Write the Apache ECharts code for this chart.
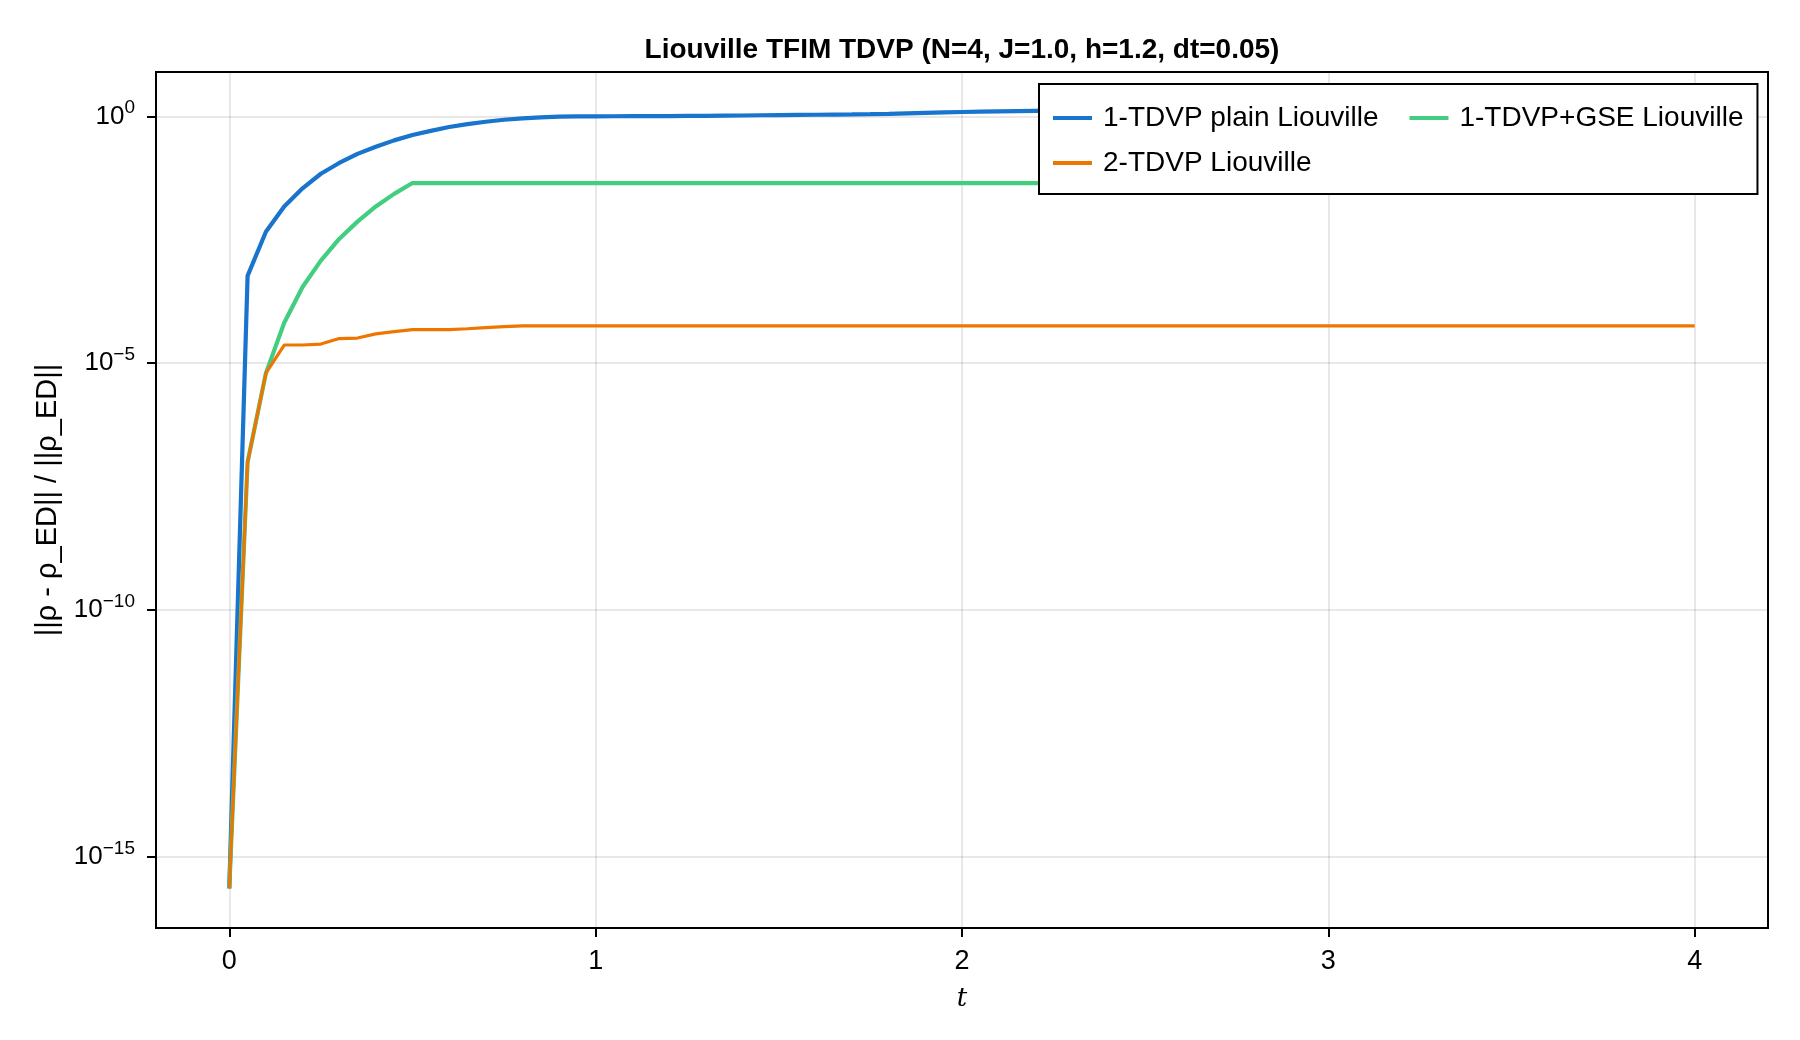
<!DOCTYPE html>
<html>
<head>
<meta charset="utf-8">
<script src="https://cdn.jsdelivr.net/npm/echarts@6/dist/echarts.min.js"></script>
<style>
  html, body { margin: 0; padding: 0; background: #fff; }
  #chart { width: 1800px; height: 1040px; }
</style>
</head>
<body>
<div id="chart"></div>
<script>
const FONT = '"Liberation Sans", Arial, Helvetica, sans-serif'

const times = [
  0, 0.05, 0.1, 0.15, 0.2, 0.25, 0.3, 0.35, 0.4, 0.45,
  0.5, 0.55, 0.6, 0.65, 0.7, 0.75, 0.8, 0.85, 0.9, 0.95,
  1, 1.05, 1.1, 1.15, 1.2, 1.25, 1.3, 1.35, 1.4, 1.45,
  1.5, 1.55, 1.6, 1.65, 1.7, 1.75, 1.8, 1.85, 1.9, 1.95,
  2, 2.05, 2.1, 2.15, 2.2, 2.25, 2.3, 2.35, 2.4, 2.45,
  2.5, 2.55, 2.6, 2.65, 2.7, 2.75, 2.8, 2.85, 2.9, 2.95,
  3, 3.05, 3.1, 3.15, 3.2, 3.25, 3.3, 3.35, 3.4, 3.45,
  3.5, 3.55, 3.6, 3.65, 3.7, 3.75, 3.8, 3.85, 3.9, 3.95,
  4,
]

// 1-TDVP plain Liouville
const plainErr = [
  2.3e-16, 5.9e-4, 4.6e-3, 1.5e-2, 3.5e-2, 6.9e-2, 0.114, 0.174, 0.243, 0.327,
  0.42, 0.51, 0.61, 0.70, 0.78, 0.857, 0.91, 0.955, 0.986, 1.0,
  1.005, 1.008, 1.011, 1.014, 1.018, 1.024, 1.03, 1.037, 1.045, 1.056,
  1.066, 1.074, 1.082, 1.089, 1.096, 1.11, 1.13, 1.155, 1.18, 1.205,
  1.23, 1.25, 1.27, 1.285, 1.30, 1.31, 1.32, 1.33, 1.34, 1.35,
  1.36, 1.36, 1.37, 1.38, 1.39, 1.40, 1.40, 1.41, 1.42, 1.43,
  1.43, 1.44, 1.45, 1.45, 1.46, 1.47, 1.47, 1.48, 1.49, 1.49,
  1.50, 1.50, 1.51, 1.52, 1.52, 1.53, 1.53, 1.54, 1.54, 1.55,
  1.56,
]

// 1-TDVP+GSE Liouville
const gseErr = [
  2.3e-16, 1.0e-7, 6.3e-6, 6.6e-5, 3.5e-4, 1.2e-3, 3.3e-3, 7.4e-3, 1.5e-2, 2.7e-2,
  4.47e-2, 4.47e-2, 4.47e-2, 4.47e-2, 4.47e-2, 4.47e-2, 4.47e-2, 4.47e-2, 4.47e-2, 4.47e-2,
  4.47e-2, 4.47e-2, 4.47e-2, 4.47e-2, 4.47e-2, 4.47e-2, 4.47e-2, 4.47e-2, 4.47e-2, 4.47e-2,
  4.47e-2, 4.47e-2, 4.47e-2, 4.47e-2, 4.47e-2, 4.47e-2, 4.47e-2, 4.47e-2, 4.47e-2, 4.47e-2,
  4.47e-2, 4.47e-2, 4.47e-2, 4.47e-2, 4.47e-2, 4.47e-2, 4.47e-2, 4.47e-2, 4.47e-2, 4.47e-2,
  4.47e-2, 4.47e-2, 4.47e-2, 4.47e-2, 4.47e-2, 4.47e-2, 4.47e-2, 4.47e-2, 4.47e-2, 4.47e-2,
  4.47e-2, 4.47e-2, 4.47e-2, 4.47e-2, 4.47e-2, 4.47e-2, 4.47e-2, 4.47e-2, 4.47e-2, 4.47e-2,
  4.47e-2, 4.47e-2, 4.47e-2, 4.47e-2, 4.47e-2, 4.47e-2, 4.47e-2, 4.47e-2, 4.47e-2, 4.47e-2,
  4.47e-2,
]

// 2-TDVP Liouville
const twoSiteErr = [
  2.3e-16, 9.8e-8, 6.3e-6, 2.34e-5, 2.34e-5, 2.45e-5, 3.16e-5, 3.24e-5, 3.94e-5, 4.37e-5,
  4.79e-5, 4.79e-5, 4.79e-5, 5.0e-5, 5.25e-5, 5.5e-5, 5.71e-5, 5.71e-5, 5.71e-5, 5.71e-5,
  5.71e-5, 5.71e-5, 5.71e-5, 5.71e-5, 5.71e-5, 5.71e-5, 5.71e-5, 5.71e-5, 5.71e-5, 5.71e-5,
  5.71e-5, 5.71e-5, 5.71e-5, 5.71e-5, 5.71e-5, 5.71e-5, 5.71e-5, 5.71e-5, 5.71e-5, 5.71e-5,
  5.71e-5, 5.71e-5, 5.71e-5, 5.71e-5, 5.71e-5, 5.71e-5, 5.71e-5, 5.71e-5, 5.71e-5, 5.71e-5,
  5.71e-5, 5.71e-5, 5.71e-5, 5.71e-5, 5.71e-5, 5.71e-5, 5.71e-5, 5.71e-5, 5.71e-5, 5.71e-5,
  5.71e-5, 5.71e-5, 5.71e-5, 5.71e-5, 5.71e-5, 5.71e-5, 5.71e-5, 5.71e-5, 5.71e-5, 5.71e-5,
  5.71e-5, 5.71e-5, 5.71e-5, 5.71e-5, 5.71e-5, 5.71e-5, 5.71e-5, 5.71e-5, 5.71e-5, 5.71e-5,
  5.71e-5,
]

const xTicks = [0, 1, 2, 3, 4]
const yTicks = [1e-15, 1e-10, 1e-5, 1]

const seriesNames = ['1-TDVP plain Liouville', '1-TDVP+GSE Liouville', '2-TDVP Liouville']
const seriesColors = ['#1874CD', '#43CD80', '#EE7600']

const gridColor = 'rgba(0,0,0,0.12)'

function supLabel(v) {
  const e = Math.round(Math.log10(v))
  const s = e < 0 ? '\u2212' + Math.abs(e) : String(e)
  return '10{sup|' + s + '}'
}

const chart = echarts.init(document.getElementById('chart'), null, { renderer: 'canvas' })
chart.setOption({
  animation: false,
  backgroundColor: '#fff',
  title: {
    text: 'Liouville TFIM TDVP (N=4, J=1.0, h=1.2, dt=0.05)',
    left: 962, top: 36, padding: 0, textAlign: 'center',
    textStyle: { fontFamily: FONT, fontSize: 28, fontWeight: 'bold', color: '#000' },
  },
  grid: {
    left: 156, right: 32, top: 72, bottom: 112,
    show: true, borderColor: '#000', borderWidth: 2, backgroundColor: 'transparent',
  },
  legend: {
    // column-wise: first column holds two entries, second column one
    data: [seriesNames[0], seriesNames[2], seriesNames[1]],
    orient: 'vertical',
    left: 1039, top: 84, height: 80,
    padding: [20, 0, 17, 14],
    itemGap: 17,
    itemWidth: 39, itemHeight: 4,
    icon: 'rect',
    // en space widens the column gap without widening the row gap
    formatter: (name) => name + '\u2002',
    borderColor: '#000', borderWidth: 2, backgroundColor: '#fff',
    textStyle: { fontFamily: FONT, fontSize: 28, color: '#000', padding: [0, 0, 0, 6] },
  },
  xAxis: {
    type: 'value', min: -0.2, max: 4.2,
    name: 't', nameLocation: 'middle', nameGap: 58,
    nameTextStyle: { fontFamily: '"DejaVu Serif", "Liberation Serif", serif', fontStyle: 'italic', fontSize: 26, color: '#000' },
    axisLine: { show: true, onZero: false, lineStyle: { color: '#000', width: 2 } },
    axisTick: { show: true, inside: false, length: 9, customValues: xTicks, lineStyle: { color: '#000', width: 2 } },
    axisLabel: { customValues: xTicks, margin: 20, fontFamily: FONT, fontSize: 27, color: '#000' },
    splitLine: { show: true, lineStyle: { color: gridColor, width: 1.5 } },
  },
  yAxis: {
    type: 'log', logBase: 10, min: 3.63e-17, max: 7.94,
    name: '||\u03C1 - \u03C1_ED|| / ||\u03C1_ED||', nameLocation: 'middle', nameGap: 90,
    nameTextStyle: { fontFamily: FONT, fontSize: 29, color: '#000' },
    axisLine: { show: true, onZero: false, lineStyle: { color: '#000', width: 2 } },
    axisTick: { show: true, inside: false, length: 9, customValues: yTicks, lineStyle: { color: '#000', width: 2 } },
    axisLabel: {
      customValues: yTicks, margin: 21, color: '#000',
      fontFamily: FONT, fontSize: 26, lineHeight: 36,
      formatter: supLabel,
      rich: { sup: { fontFamily: FONT, fontSize: 19, lineHeight: 19, verticalAlign: 'top', color: '#000' } },
    },
    splitLine: { show: true, lineStyle: { color: gridColor, width: 1.5 } },
  },
  series: [
    {
      name: seriesNames[0], type: 'line', showSymbol: false, z: 2,
      data: times.map((t, i) => [t, plainErr[i]]),
      lineStyle: { color: seriesColors[0], width: 4.2 }, itemStyle: { color: seriesColors[0] },
    },
    {
      name: seriesNames[1], type: 'line', showSymbol: false, z: 3,
      data: times.map((t, i) => [t, gseErr[i]]),
      lineStyle: { color: seriesColors[1], width: 4.2 }, itemStyle: { color: seriesColors[1] },
    },
    {
      name: seriesNames[2], type: 'line', showSymbol: false, z: 4,
      data: times.map((t, i) => [t, twoSiteErr[i]]),
      lineStyle: { color: seriesColors[2], width: 3.2 }, itemStyle: { color: seriesColors[2] },
    },
  ],
})
</script>
</body>
</html>
